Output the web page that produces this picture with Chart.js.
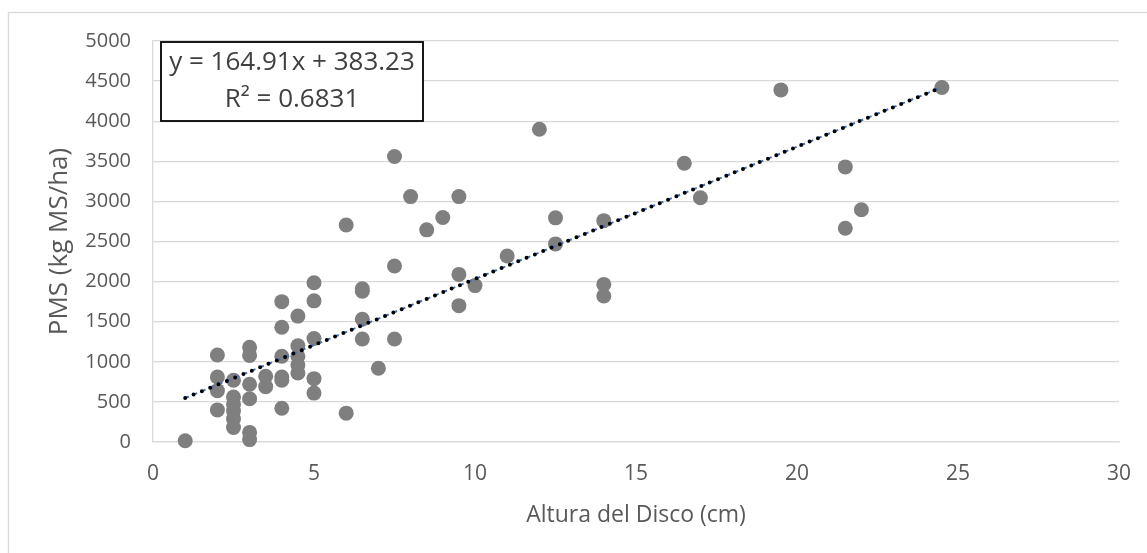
<!DOCTYPE html>
<html>
<head>
<meta charset="utf-8">
<title>PMS vs Altura del Disco</title>
<script src="https://cdn.jsdelivr.net/npm/chart.js@4/dist/chart.umd.min.js"></script>
<style>
  html, body { margin: 0; padding: 0; background: #fff; }
  #wrap { width: 1147px; height: 553px; position: relative; }
</style>
</head>
<body>
<div id="wrap"><canvas id="grafico"></canvas></div>
<script>
// altura del disco (cm) y producción de materia seca (kg MS/ha)
const altura = [
  1,
  2, 2, 2, 2,
  2.5, 2.5, 2.5, 2.5, 2.5, 2.5,
  3, 3, 3, 3, 3, 3,
  3.5, 3.5,
  4, 4, 4, 4, 4, 4,
  4.5, 4.5, 4.5, 4.5, 4.5,
  5, 5, 5, 5, 5,
  6, 6,
  6.5, 6.5, 6.5, 6.5,
  7,
  7.5, 7.5, 7.5,
  8, 8.5, 9,
  9.5, 9.5, 9.5,
  10, 11, 12,
  12.5, 12.5,
  14, 14, 14,
  16.5, 17, 19.5,
  21.5, 21.5, 22, 24.5
];
const pms = [
  15,
  1085, 810, 640, 400,
  770, 560, 470, 390, 290, 180,
  1180, 1080, 720, 540, 120, 30,
  820, 690,
  1750, 1430, 1070, 810, 770, 420,
  1570, 1200, 1070, 960, 860,
  1985, 1760, 1290, 790, 610,
  2705, 360,
  1910, 1880, 1530, 1285,
  920,
  3560, 2195, 1285,
  3060, 2645, 2800,
  3060, 2090, 1700,
  1950, 2320, 3900,
  2795, 2470,
  2760, 1965, 1820,
  3475, 3045, 4390,
  3430, 2665, 2895, 4420
];

// tendencia lineal
const pendiente = 164.91;
const intercepto = 383.23;
const r2 = 0.6831;
const tendX = [1, 24.5];

const xTicks = [0, 5, 10, 15, 20, 25, 30];
const yTicks = [0, 500, 1000, 1500, 2000, 2500, 3000, 3500, 4000, 4500, 5000];

const puntos = altura.map((x, i) => ({ x: x, y: pms[i] }));
const tendencia = tendX.map(x => ({ x: x, y: pendiente * x + intercepto }));

const fuente = "'Open Sans', sans-serif";
const gris = '#595959';

// fondo y borde exterior del gráfico
const marco = {
  id: 'marco',
  beforeDraw(chart) {
    const c = chart.ctx;
    c.save();
    c.fillStyle = '#fff';
    c.fillRect(0, 0, chart.width, chart.height);
    c.strokeStyle = '#d9d9d9';
    c.lineWidth = 1.3;
    c.strokeRect(8.5, 12.5, chart.width + 10, chart.height + 10);
    c.restore();
  }
};

// cuadro con la ecuación de la recta
const ecuacion = {
  id: 'ecuacion',
  afterDraw(chart) {
    const c = chart.ctx;
    c.save();
    c.fillStyle = '#fff';
    c.fillRect(161, 42, 262, 79);
    c.strokeStyle = '#000';
    c.lineWidth = 1.8;
    c.strokeRect(161, 42, 262, 79);
    c.fillStyle = '#404040';
    c.font = '26px ' + fuente;
    c.textAlign = 'center';
    c.textBaseline = 'middle';
    c.fillText('y = ' + pendiente + 'x + ' + intercepto, 292, 63);
    c.fillText('R² = ' + r2, 292, 100);
    c.restore();
  }
};

new Chart(document.getElementById('grafico'), {
  type: 'scatter',
  data: {
    datasets: [
      {
        label: 'tendencia azul',
        type: 'line',
        data: tendencia,
        borderColor: '#4472c4',
        borderWidth: 2,
        borderDash: [4, 5],
        pointRadius: 0,
        fill: false,
        order: 2
      },
      {
        label: 'tendencia',
        type: 'line',
        data: tendencia,
        borderColor: '#000',
        borderWidth: 4,
        borderCapStyle: 'round',
        borderDash: [0, 9],
        pointRadius: 0,
        fill: false,
        order: 1
      },
      {
        label: 'PMS',
        data: puntos,
        backgroundColor: '#7f7f7f',
        borderWidth: 0,
        pointRadius: 7.5,
        pointHoverRadius: 7.5,
        clip: false,
        order: 3
      }
    ]
  },
  options: {
    responsive: true,
    maintainAspectRatio: false,
    animation: false,
    layout: { padding: { top: 41, right: 28, bottom: 0, left: 0 } },
    plugins: {
      legend: { display: false },
      tooltip: { enabled: false }
    },
    scales: {
      x: {
        type: 'linear',
        min: 0,
        max: 30,
        afterBuildTicks: s => { s.ticks = xTicks.map(v => ({ value: v })); },
        afterFit: s => { s.height = 111; },
        grid: { display: false },
        border: { display: true, color: '#d9d9d9', width: 1.3 },
        ticks: { color: gris, font: { family: fuente, size: 21 }, padding: 11, maxRotation: 0 },
        title: {
          display: true,
          text: 'Altura del Disco (cm)',
          color: gris,
          font: { family: fuente, size: 23 },
          padding: { top: 0, bottom: 24 }
        }
      },
      y: {
        min: 0,
        max: 5000,
        afterBuildTicks: s => { s.ticks = yTicks.map(v => ({ value: v })); },
        afterFit: s => { s.width = 153; },
        grid: { color: '#d9d9d9', lineWidth: 1.3, drawTicks: false },
        border: { display: true, color: '#d9d9d9', width: 1.3 },
        ticks: {
          color: gris,
          font: { family: fuente, size: 20 },
          padding: 22,
          callback: v => String(v)
        },
        title: {
          display: true,
          text: 'PMS (kg MS/ha)',
          color: gris,
          font: { family: fuente, size: 26 },
          padding: { top: 44, bottom: 0 }
        }
      }
    }
  },
  plugins: [marco, ecuacion]
});
</script>
</body>
</html>
